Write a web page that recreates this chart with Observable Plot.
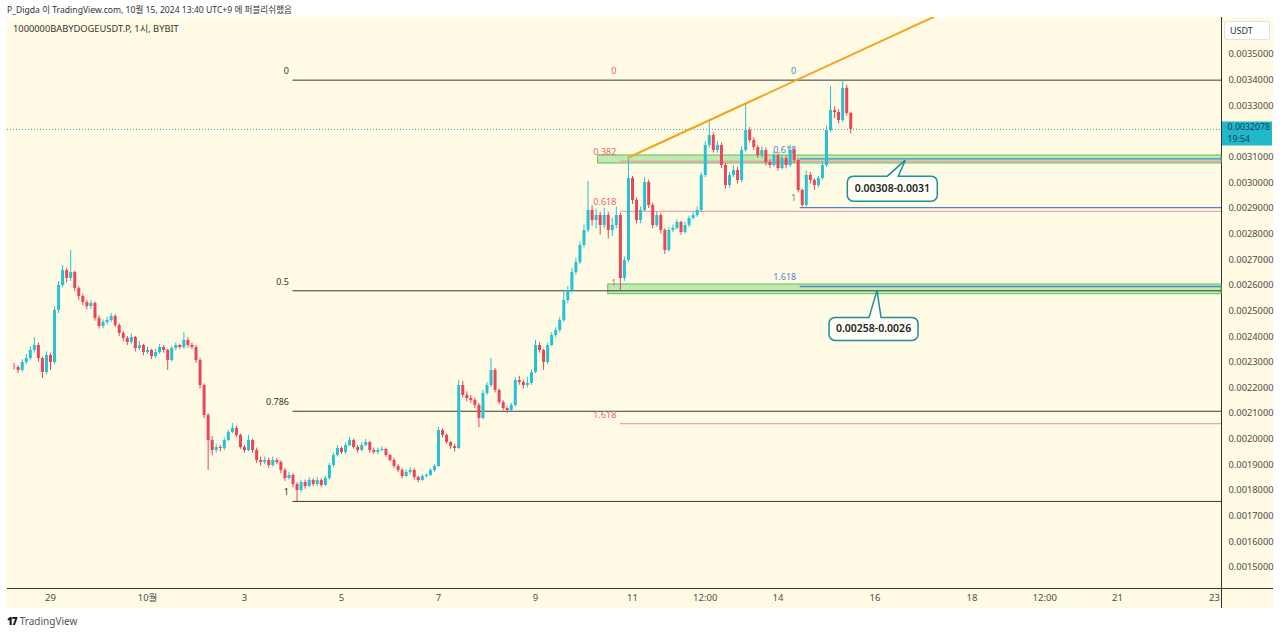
<!DOCTYPE html>
<html>
<head>
<meta charset="utf-8">
<script src="https://cdn.jsdelivr.net/npm/d3@7"></script>
<script src="https://cdn.jsdelivr.net/npm/@observablehq/plot@0.6"></script>
<style>
  html, body { margin: 0; padding: 0; background: #ffffff; width: 1280px; height: 634px; overflow: hidden;
    font-family: "Noto Sans", "Noto Sans CJK KR", sans-serif; }
  #hdr { position: absolute; left: 7px; top: 3px; font-size: 8.6px; line-height: 14px; color: #333;
    font-family: "Noto Sans", "Noto Sans CJK KR", sans-serif; white-space: nowrap; }
  #chart { position: absolute; left: 6px; top: 17px; width: 1267px; height: 591px; background: #fffbe4; }
  #sym { position: absolute; left: 13px; top: 22px; font-size: 9.3px; line-height: 14px; color: #333;
    font-family: "Noto Sans", "Noto Sans CJK KR", sans-serif; white-space: nowrap; }
  #usdt { position: absolute; left: 1224px; top: 21px; width: 46px; height: 19px; box-sizing: border-box;
    background: #ffffff; border: 1px solid #e2e2e2; border-radius: 2px; font-size: 9px; line-height: 17px;
    padding-left: 5px; color: #333; }
  #foot { position: absolute; left: 7px; top: 613px; font-size: 10px; line-height: 16px; color: #555; white-space: nowrap; }
  #foot b { color: #111; font-weight: 900; letter-spacing: -1px; margin-right: 3px; font-size: 10px; }
</style>
</head>
<body>
<div id="hdr">P_Digda 이 TradingView.com, 10월 15, 2024 13:40 UTC+9 에 퍼블리쉬했음</div>
<div id="chart"></div>
<div id="sym">1000000BABYDOGEUSDT.P, 1시, BYBIT</div>
<div id="usdt">USDT</div>
<div id="foot"><b>17</b>TradingView</div>
<script>
// ---------------- DATA ----------------
// 2-hour candles; centre of the first candle and step
const candleStartUTC = Date.UTC(2024, 8, 28, 6);
const candleStepHours = 2;

const open = [
0.0022800,0.0022793,0.0022676,0.0022988,0.0023144,0.0023456,0.0023651,0.0023144,0.0022598,0.0023261,
0.0022988,0.0025016,0.0025991,0.0026576,0.0026264,0.0026498,0.0025874,0.0025562,0.0025328,0.0025172,
0.0025289,0.0024704,0.0024392,0.0024548,0.0024626,0.0024782,0.0024431,0.0024119,0.0023924,0.0023768,
0.0023963,0.0023534,0.0023651,0.0023378,0.0023456,0.0023222,0.0023378,0.0023573,0.0023456,0.0023066,
0.0023534,0.0023651,0.0023573,0.0023846,0.0023651,0.0023573,0.0023066,0.0022091,0.0020921,0.0019946,
0.0019556,0.0019673,0.0019634,0.0019946,0.0020258,0.0020414,0.0020141,0.0019673,0.0019556,0.0019946,
0.0019556,0.0019166,0.0019088,0.0019166,0.0018971,0.0019166,0.0019088,0.0018776,0.0018464,0.0018581,
0.0018230,0.0017996,0.0018308,0.0018152,0.0018386,0.0018230,0.0018386,0.0018191,0.0018464,0.0018971,
0.0019361,0.0019634,0.0019478,0.0019751,0.0019946,0.0019673,0.0019556,0.0019751,0.0019868,0.0019556,
0.0019478,0.0019556,0.0019595,0.0019361,0.0019166,0.0018932,0.0018776,0.0018542,0.0018698,0.0018776,
0.0018503,0.0018386,0.0018542,0.0018581,0.0018776,0.0018932,0.0020336,0.0020141,0.0019868,0.0019712,
0.0019634,0.0022091,0.0021701,0.0021584,0.0021506,0.0021311,0.0020804,0.0021779,0.0022091,0.0022676,
0.0021896,0.0021428,0.0021194,0.0021116,0.0021311,0.0022286,0.0022208,0.0022091,0.0022169,0.0022598,
0.0023651,0.0023456,0.0022988,0.0023651,0.0024041,0.0024236,0.0024626,0.0025406,0.0025796,0.0026498,
0.0026888,0.0027551,0.0028136,0.0028916,0.0028526,0.0028721,0.0028331,0.0028721,0.0028136,0.0028331,
0.0028721,0.0026264,0.0026966,0.0030164,0.0029306,0.0028526,0.0028916,0.0030008,0.0029111,0.0028331,
0.0028721,0.0028136,0.0027356,0.0028136,0.0028214,0.0028448,0.0028058,0.0028331,0.0028604,0.0028721,
0.0028916,0.0030281,0.0031451,0.0031841,0.0031256,0.0031451,0.0030671,0.0029891,0.0030281,0.0030476,
0.0030086,0.0031256,0.0032036,0.0031646,0.0031373,0.0031061,0.0031256,0.0030788,0.0030671,0.0031061,
0.0030554,0.0030944,0.0030671,0.0031256,0.0030866,0.0029696,0.0029111,0.0030281,0.0030086,0.0029891,
0.0030164,0.0030671,0.0032036,0.0032816,0.0032738,0.0032426,0.0033680,0.0032700
];
const high = [
0.0022950,0.0022850,0.0023100,0.0023300,0.0023600,0.0023963,0.0023750,0.0023200,0.0023400,0.0023350,
0.0025150,0.0026150,0.0026770,0.0026650,0.0027356,0.0026550,0.0025950,0.0025650,0.0025400,0.0025400,
0.0025350,0.0024800,0.0024650,0.0024750,0.0024900,0.0024850,0.0024500,0.0024200,0.0024000,0.0024100,
0.0024000,0.0023800,0.0023700,0.0023600,0.0023500,0.0023500,0.0023700,0.0023650,0.0023500,0.0023600,
0.0023750,0.0023700,0.0024158,0.0023950,0.0023750,0.0023650,0.0023150,0.0022150,0.0021000,0.0020100,
0.0019800,0.0019750,0.0020050,0.0020350,0.0020609,0.0020500,0.0020200,0.0019750,0.0020150,0.0020000,
0.0019650,0.0019300,0.0019300,0.0019250,0.0019300,0.0019250,0.0019150,0.0018850,0.0018700,0.0018650,
0.0018300,0.0018400,0.0018400,0.0018500,0.0018450,0.0018500,0.0018450,0.0018550,0.0019050,0.0019450,
0.0019750,0.0019700,0.0019850,0.0020063,0.0020000,0.0019750,0.0019850,0.0019990,0.0019900,0.0019650,
0.0019650,0.0019700,0.0019650,0.0019400,0.0019250,0.0019000,0.0018850,0.0018800,0.0018900,0.0018850,
0.0018550,0.0018600,0.0018650,0.0018850,0.0019000,0.0020450,0.0020400,0.0020200,0.0019900,0.0019800,
0.0022300,0.0022250,0.0021850,0.0021700,0.0021600,0.0021400,0.0021900,0.0022200,0.0023144,0.0022750,
0.0021950,0.0021500,0.0021250,0.0021400,0.0022400,0.0022450,0.0022300,0.0022400,0.0022700,0.0023850,
0.0023750,0.0023500,0.0023750,0.0024150,0.0024350,0.0024750,0.0025800,0.0025950,0.0026650,0.0027050,
0.0027700,0.0028350,0.0030050,0.0029100,0.0028950,0.0028850,0.0029000,0.0028850,0.0028600,0.0029050,
0.0028800,0.0027100,0.0030983,0.0030250,0.0029400,0.0029050,0.0030200,0.0030100,0.0029200,0.0028850,
0.0028800,0.0028200,0.0028250,0.0028350,0.0028550,0.0028500,0.0028450,0.0028700,0.0028850,0.0029050,
0.0030400,0.0031600,0.0032426,0.0031950,0.0031600,0.0031550,0.0030750,0.0030400,0.0030650,0.0030600,
0.0031400,0.0033089,0.0032150,0.0031750,0.0031450,0.0031400,0.0031350,0.0030900,0.0031200,0.0031150,
0.0031050,0.0031050,0.0031450,0.0031350,0.0030950,0.0029750,0.0030450,0.0030400,0.0030150,0.0030250,
0.0030800,0.0032200,0.0033750,0.0032950,0.0032850,0.0034000,0.0033800,0.0032750
];
const low = [
0.0022700,0.0022550,0.0022600,0.0022900,0.0023050,0.0023350,0.0023000,0.0022364,0.0022500,0.0022676,
0.0022900,0.0024900,0.0025900,0.0026100,0.0026150,0.0025750,0.0025400,0.0025200,0.0025050,0.0025050,
0.0024600,0.0024300,0.0024300,0.0024450,0.0024550,0.0024350,0.0024000,0.0023800,0.0023650,0.0023700,
0.0023400,0.0023450,0.0023250,0.0023300,0.0023100,0.0023150,0.0023300,0.0023350,0.0022680,0.0023000,
0.0023450,0.0023500,0.0023500,0.0023550,0.0023500,0.0022950,0.0021950,0.0020800,0.0018780,0.0019350,
0.0019450,0.0019500,0.0019550,0.0019900,0.0020200,0.0020050,0.0019600,0.0019450,0.0019500,0.0019450,
0.0019050,0.0018950,0.0019000,0.0018850,0.0018900,0.0019000,0.0018650,0.0018350,0.0018400,0.0018100,
0.0017570,0.0017900,0.0018050,0.0018100,0.0018150,0.0018150,0.0018100,0.0018150,0.0018400,0.0018900,
0.0019300,0.0019400,0.0019400,0.0019700,0.0019600,0.0019450,0.0019500,0.0019700,0.0019450,0.0019400,
0.0019400,0.0019500,0.0019300,0.0019100,0.0018850,0.0018700,0.0018450,0.0018500,0.0018600,0.0018400,
0.0018300,0.0018350,0.0018480,0.0018550,0.0018700,0.0018900,0.0020050,0.0019800,0.0019600,0.0019500,
0.0019600,0.0021600,0.0021450,0.0021400,0.0021200,0.0020450,0.0020750,0.0021700,0.0022000,0.0021800,
0.0021350,0.0021100,0.0021000,0.0021050,0.0021250,0.0022100,0.0021950,0.0022000,0.0022100,0.0022550,
0.0023350,0.0022680,0.0022900,0.0023600,0.0023950,0.0024150,0.0024550,0.0025300,0.0025700,0.0026400,
0.0026800,0.0027450,0.0028050,0.0028300,0.0028200,0.0027950,0.0028200,0.0027800,0.0027900,0.0028200,
0.0025800,0.0026150,0.0026900,0.0029150,0.0028400,0.0028400,0.0028850,0.0029000,0.0028200,0.0028250,
0.0028000,0.0027200,0.0027300,0.0028050,0.0028150,0.0027950,0.0028000,0.0028250,0.0028550,0.0028650,
0.0028850,0.0030200,0.0031350,0.0031150,0.0031150,0.0030550,0.0029750,0.0029800,0.0030200,0.0029950,
0.0030000,0.0031200,0.0031550,0.0031250,0.0030950,0.0030950,0.0030650,0.0030550,0.0030600,0.0030450,
0.0030500,0.0030550,0.0030600,0.0030750,0.0029600,0.0029030,0.0029050,0.0029950,0.0029700,0.0029800,
0.0030100,0.0030600,0.0031950,0.0032500,0.0032300,0.0032350,0.0032600,0.0031900
];
const close = [
0.0022793,0.0022676,0.0022988,0.0023144,0.0023456,0.0023651,0.0023144,0.0022598,0.0023261,0.0022988,
0.0025016,0.0025991,0.0026576,0.0026264,0.0026498,0.0025874,0.0025562,0.0025328,0.0025172,0.0025289,
0.0024704,0.0024392,0.0024548,0.0024626,0.0024782,0.0024431,0.0024119,0.0023924,0.0023768,0.0023963,
0.0023534,0.0023651,0.0023378,0.0023456,0.0023222,0.0023378,0.0023573,0.0023456,0.0023066,0.0023534,
0.0023651,0.0023573,0.0023846,0.0023651,0.0023573,0.0023066,0.0022091,0.0020921,0.0019946,0.0019556,
0.0019673,0.0019634,0.0019946,0.0020258,0.0020414,0.0020141,0.0019673,0.0019556,0.0019946,0.0019556,
0.0019166,0.0019088,0.0019166,0.0018971,0.0019166,0.0019088,0.0018776,0.0018464,0.0018581,0.0018230,
0.0017996,0.0018308,0.0018152,0.0018386,0.0018230,0.0018386,0.0018191,0.0018464,0.0018971,0.0019361,
0.0019634,0.0019478,0.0019751,0.0019946,0.0019673,0.0019556,0.0019751,0.0019868,0.0019556,0.0019478,
0.0019556,0.0019595,0.0019361,0.0019166,0.0018932,0.0018776,0.0018542,0.0018698,0.0018776,0.0018503,
0.0018386,0.0018542,0.0018581,0.0018776,0.0018932,0.0020336,0.0020141,0.0019868,0.0019712,0.0019634,
0.0022091,0.0021701,0.0021584,0.0021506,0.0021311,0.0020804,0.0021779,0.0022091,0.0022676,0.0021896,
0.0021428,0.0021194,0.0021116,0.0021311,0.0022286,0.0022208,0.0022091,0.0022169,0.0022598,0.0023651,
0.0023456,0.0022988,0.0023651,0.0024041,0.0024236,0.0024626,0.0025406,0.0025796,0.0026498,0.0026888,
0.0027551,0.0028136,0.0028916,0.0028526,0.0028721,0.0028331,0.0028721,0.0028136,0.0028331,0.0028721,
0.0026264,0.0026966,0.0030164,0.0029306,0.0028526,0.0028916,0.0030008,0.0029111,0.0028331,0.0028721,
0.0028136,0.0027356,0.0028136,0.0028214,0.0028448,0.0028058,0.0028331,0.0028604,0.0028721,0.0028916,
0.0030281,0.0031451,0.0031841,0.0031256,0.0031451,0.0030671,0.0029891,0.0030281,0.0030476,0.0030086,
0.0031256,0.0032036,0.0031646,0.0031373,0.0031061,0.0031256,0.0030788,0.0030671,0.0031061,0.0030554,
0.0030944,0.0030671,0.0031256,0.0030866,0.0029696,0.0029111,0.0030281,0.0030086,0.0029891,0.0030164,
0.0030671,0.0032036,0.0032816,0.0032738,0.0032426,0.0033680,0.0032700,0.0032078
];

// price axis ticks (0.0032000 is hidden behind the last-price tag in the reference)
const yTicks = [0.0015,0.0016,0.0017,0.0018,0.0019,0.0020,0.0021,0.0022,0.0023,0.0024,0.0025,
                0.0026,0.0027,0.0028,0.0029,0.0030,0.0031,0.0033,0.0034,0.0035];
// time axis ticks
const xTickDates = [Date.UTC(2024,8,29), Date.UTC(2024,9,1), Date.UTC(2024,9,3), Date.UTC(2024,9,5),
  Date.UTC(2024,9,7), Date.UTC(2024,9,9), Date.UTC(2024,9,11), Date.UTC(2024,9,12,12), Date.UTC(2024,9,14),
  Date.UTC(2024,9,16), Date.UTC(2024,9,18), Date.UTC(2024,9,19,12), Date.UTC(2024,9,21), Date.UTC(2024,9,23)];
const xTickLabels = ["29","10월","3","5","7","9","11","12:00","14","16","18","12:00","21","23"];

// visible range
const xDomainUTC = [Date.UTC(2024,8,28,2,43), Date.UTC(2024,9,23,3,28)];
const yDomain = [0.0014174, 0.0036443];

// Fibonacci retracements (black, red, blue)
const fibAnchorUTC = [Date.UTC(2024,9,4,0), Date.UTC(2024,9,10,18), Date.UTC(2024,9,14,11)];
const fibZero = [0.0034000, 0.0034000, 0.0034010];
const fibOne  = [0.0017570, 0.0025720, 0.0029030];
const fibLevels = [[0, 0.5, 0.786, 1], [0, 0.382, 0.618, 1, 1.618], [0, 0.618, 1, 1.618]];
const fibLineLevels = [[0, 0.5, 0.786, 1], [0.382, 0.618, 1.618], [0.618, 1, 1.618]];

// support zones + callouts
const zoneLabels = ["0.00308-0.0031", "0.00258-0.0026"];
const zoneLow  = [0.0030749, 0.0025652];
const zoneHigh = [0.0031061, 0.0026030];
const zoneStartUTC = [Date.UTC(2024,9,10,7), Date.UTC(2024,9,10,12)];
const calloutTipUTC = [Date.UTC(2024,9,16,15), Date.UTC(2024,9,16,1)];
const calloutTipPrice = [0.0030880, 0.0025800];

// rising trend line (orange)
const trendUTC = [Date.UTC(2024,9,10,22), Date.UTC(2024,9,13,8), Date.UTC(2024,9,17,6)];
const trendPrice = [0.0030983, 0.0033089, 0.0036500];

// last price
const lastPrice = 0.0032078;
const lastTimer = "19:54";

// ---------------- STYLE ----------------
const UP = "#26c1d6", DOWN = "#ec4459";
const FIB_LINE = ["#3a3a3a", "#f3a1aa", "#4a86cf"];
const FIB_TEXT = ["#333333", "#ec5f6e", "#4a86cf"];

// ---------------- BUILD ----------------
const candles = close.map((c, i) => ({
  t: new Date(candleStartUTC + i * candleStepHours * 3600e3),
  o: open[i], h: high[i], l: low[i], c
}));
const upC = candles.filter(d => d.c >= d.o);
const dnC = candles.filter(d => d.c < d.o);

const xEnd = new Date(xDomainUTC[1]);
const fibRows = fibLevels.map((lv, g) => lv.map(level => ({
  g, level, label: String(level),
  t0: new Date(fibAnchorUTC[g]),
  p: fibZero[g] + (fibOne[g] - fibZero[g]) * level,
  line: fibLineLevels[g].includes(level)
})));

const zones = zoneLabels.map((label, i) => ({
  label, t0: new Date(zoneStartUTC[i]), lo: zoneLow[i], hi: zoneHigh[i],
  tipT: new Date(calloutTipUTC[i]), tipP: calloutTipPrice[i]
}));
const trend = trendUTC.map((t, i) => ({t: new Date(t), p: trendPrice[i]}));
const labelOf = new Map(xTickDates.map((d, i) => [d, xTickLabels[i]]));

// callout shape (rounded box + pointer) drawn relative to the tip point
function calloutSymbol(dx, dy, w, h, r, pL, pR) {
  return {
    draw(ctx) {
      const top = dy - h / 2, bot = dy + h / 2, left = dx - w / 2, right = dx + w / 2;
      ctx.moveTo(left + r, top);
      ctx.lineTo(pL, top);
      ctx.lineTo(0, 0);
      ctx.lineTo(pR, top);
      ctx.lineTo(right - r, top);
      ctx.arcTo(right, top, right, top + r, r);
      ctx.lineTo(right, bot - r);
      ctx.arcTo(right, bot, right - r, bot, r);
      ctx.lineTo(left + r, bot);
      ctx.arcTo(left, bot, left, bot - r, r);
      ctx.lineTo(left, top + r);
      ctx.arcTo(left, top, left + r, top, r);
      ctx.closePath();
    }
  };
}
const calloutGeom = [
  {dx: -13, dy: 28.5, w: 90, h: 25, pL: -18, pR: -7},
  {dx: -3.5, dy: 38.5, w: 89, h: 23, pL: -8, pR: 4}
];

const marks = [];
// axes
marks.push(Plot.axisY({anchor: "right", ticks: yTicks, tickFormat: d => d.toFixed(7), tickSize: 0, tickPadding: 7,
  fontSize: 9.3, fill: "#4d4d4d", label: null}));
marks.push(Plot.axisX({anchor: "bottom", ticks: xTickDates.map(d => new Date(d)), tickFormat: d => labelOf.get(+d),
  tickSize: 0, tickPadding: 6, fontSize: 9.5, fill: "#4d4d4d", label: null}));
marks.push(Plot.ruleX([xEnd], {stroke: "#333", insetBottom: -20}));
marks.push(Plot.ruleY([yDomain[0]], {stroke: "#333", insetRight: -52}));

// zones
zones.forEach(z => {
  marks.push(Plot.rect([z], {x1: "t0", x2: () => xEnd, y1: "lo", y2: "hi", fill: "#b5e6a8", fillOpacity: 0.85,
    stroke: "#5cbf5c", strokeWidth: 1}));
});

// fib lines (red and blue first, black on top) and labels
[1, 2, 0].forEach(g => {
  marks.push(Plot.ruleY(fibRows[g].filter(d => d.line), {y: "p", x1: "t0", x2: () => xEnd, stroke: FIB_LINE[g],
    strokeWidth: g === 0 ? 1 : 1.3}));
});
fibRows.forEach((rows, g) => {
  marks.push(Plot.text(rows, {x: "t0", y: "p", text: "label", textAnchor: "end", dx: -4, dy: -9,
    fill: FIB_TEXT[g], fontSize: 9}));
});

// last price dotted line
marks.push(Plot.ruleY([lastPrice], {stroke: "#27a6b8", strokeDasharray: "1,2", strokeWidth: 1}));

// candles
marks.push(Plot.ruleX(upC, {x: "t", y1: "l", y2: "h", stroke: UP, strokeWidth: 1}));
marks.push(Plot.ruleX(dnC, {x: "t", y1: "l", y2: "h", stroke: DOWN, strokeWidth: 1}));
marks.push(Plot.ruleX(upC, {x: "t", y1: "o", y2: "c", stroke: UP, strokeWidth: 3}));
marks.push(Plot.ruleX(dnC, {x: "t", y1: "o", y2: "c", stroke: DOWN, strokeWidth: 3}));

// trend line
marks.push(Plot.line(trend, {x: "t", y: "p", stroke: "#f6a21e", strokeWidth: 2, clip: true}));

// callouts
zones.forEach((z, i) => {
  const g = calloutGeom[i];
  marks.push(Plot.dot([z], {x: "tipT", y: "tipP", r: 1, symbol: calloutSymbol(g.dx, g.dy, g.w, g.h, 6, g.pL, g.pR),
    fill: "#fffef6", stroke: "#1f8f9a", strokeWidth: 1.5}));
  marks.push(Plot.text([z], {x: "tipT", y: "tipP", text: "label", dx: g.dx, dy: g.dy, fontSize: 10.5,
    fontWeight: 600, fill: "#222"}));
});

// last-price tag on the price axis
marks.push(Plot.ruleY([lastPrice], {y: d => d, x1: () => xEnd, x2: () => xEnd, insetLeft: 1, insetRight: -51,
  stroke: "#22b8cc", strokeWidth: 24, dy: 4}));
marks.push(Plot.text([lastPrice], {y: d => d, x: () => xEnd, text: d => d.toFixed(7), dx: 6, dy: -2,
  textAnchor: "start", fill: "#113f4c", fontSize: 8.8}));
marks.push(Plot.text([lastTimer], {y: () => lastPrice, x: () => xEnd, text: d => d, dx: 6, dy: 10,
  textAnchor: "start", fill: "#113f4c", fontSize: 8.8}));

const chart = Plot.plot({
  width: 1267, height: 591,
  marginLeft: 1, marginRight: 52, marginTop: 0, marginBottom: 20,
  x: {type: "utc", domain: xDomainUTC.map(d => new Date(d)), axis: null},
  y: {type: "linear", domain: yDomain, axis: null},
  style: {background: "transparent", fontFamily: "'Noto Sans', 'Noto Sans CJK KR', sans-serif", fontSize: "10px",
    color: "#4d4d4d", overflow: "visible"},
  marks
});
document.getElementById("chart").appendChild(chart);
</script>
</body>
</html>
